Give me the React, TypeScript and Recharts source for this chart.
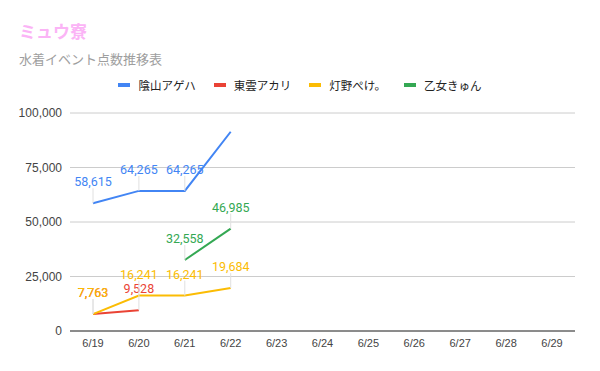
import React from 'react';
import { LineChart, Line, XAxis, YAxis, CartesianGrid, LabelList } from 'recharts';

const dates = ['6/19', '6/20', '6/21', '6/22', '6/23', '6/24', '6/25', '6/26', '6/27', '6/28', '6/29'];
const kageyama = [58615, 64265, 64265, 91400];
const shinonome = [7763, 9528];
const tomono = [7763, 16241, 16241, 19684];
const otome = [null, null, 32558, 46985];
const yTicks = [0, 25000, 50000, 75000, 100000];

const series = [
    { key: 'kageyama', name: '陰山アゲハ', color: '#4285f4', values: kageyama, hideLabelAt: [3] },
    { key: 'shinonome', name: '東雲アカリ', color: '#ea4335', values: shinonome, hideLabelAt: [] as number[] },
    { key: 'tomono', name: '灯野ぺけ。', color: '#fbbc04', values: tomono, hideLabelAt: [] as number[] },
    { key: 'otome', name: '乙女きゅん', color: '#34a853', values: otome, hideLabelAt: [] as number[] },
];

const data = dates.map((d, i) => {
    const row: Record<string, any> = { date: d };
    series.forEach((s) => {
        const v = s.values[i];
        row[s.key] = v === undefined ? null : v;
    });
    return row;
});

const FONT = 'Roboto, "Noto Sans CJK JP", Arial, sans-serif';
const AXIS_FONT = 'Arial, "Liberation Sans", sans-serif';
const fmt = (v: number) => v.toLocaleString('en-US');

function makeLabel(color: string, hidden: number[]) {
    return (props: any) => {
        const { x, y, value, index } = props;
        if (value == null || hidden.includes(index)) return null;
        return (
            <g>
                <line x1={x} x2={x} y1={y - 15} y2={y} stroke="#e0e0e0" strokeWidth={1} />
                <text x={x} y={y - 17} textAnchor="middle" fill={color} fontSize={12.5} fontFamily={FONT}>
                    {fmt(value)}
                </text>
            </g>
        );
    };
}

export default function App() {
    return (
        <div style={{ position: 'fixed', left: 0, top: 0, width: 600, height: 371, background: '#fff', fontFamily: FONT }}>
            <div style={{ position: 'absolute', left: 19, top: 18, fontSize: 17, fontWeight: 'bold', color: '#fbb4f6' }}>
                ミュウ寮
            </div>
            <div style={{ position: 'absolute', left: 19, top: 49, fontSize: 13, color: '#9e9e9e' }}>
                水着イベント点数推移表
            </div>
            <div
                style={{
                    position: 'absolute', left: 0, top: 77, width: 600, display: 'flex',
                    justifyContent: 'center', gap: 18, fontSize: 11.5, color: '#222',
                }}
            >
                {series.map((s) => (
                    <div key={s.key} style={{ display: 'flex', alignItems: 'center' }}>
                        <span style={{ display: 'inline-block', width: 12, height: 4, background: s.color, marginRight: 8 }} />
                        <span>{s.name}</span>
                    </div>
                ))}
            </div>
            <LineChart width={600} height={371} data={data} margin={{ top: 113, right: 25, bottom: 10, left: 8 }}>
                <CartesianGrid vertical={false} stroke="#cccccc" />
                <XAxis
                    dataKey="date"
                    axisLine={{ stroke: '#333' }}
                    tickLine={false}
                    padding={{ left: 23, right: 23 }}
                    tick={{ fill: '#444', fontSize: 11, fontFamily: AXIS_FONT }}
                    tickMargin={2}
                    height={30}
                />
                <YAxis
                    domain={[0, 100000]}
                    ticks={yTicks}
                    axisLine={false}
                    tickLine={false}
                    tickFormatter={fmt}
                    tick={{ fill: '#444', fontSize: 12, fontFamily: AXIS_FONT }}
                    width={62}
                    tickMargin={2}
                />
                {series.map((s) => (
                    <Line
                        key={s.key}
                        dataKey={s.key}
                        name={s.name}
                        stroke={s.color}
                        strokeWidth={2}
                        dot={false}
                        type="linear"
                        isAnimationActive={false}
                    >
                        <LabelList dataKey={s.key} content={makeLabel(s.color, s.hideLabelAt)} />
                    </Line>
                ))}
            </LineChart>
        </div>
    );
}
